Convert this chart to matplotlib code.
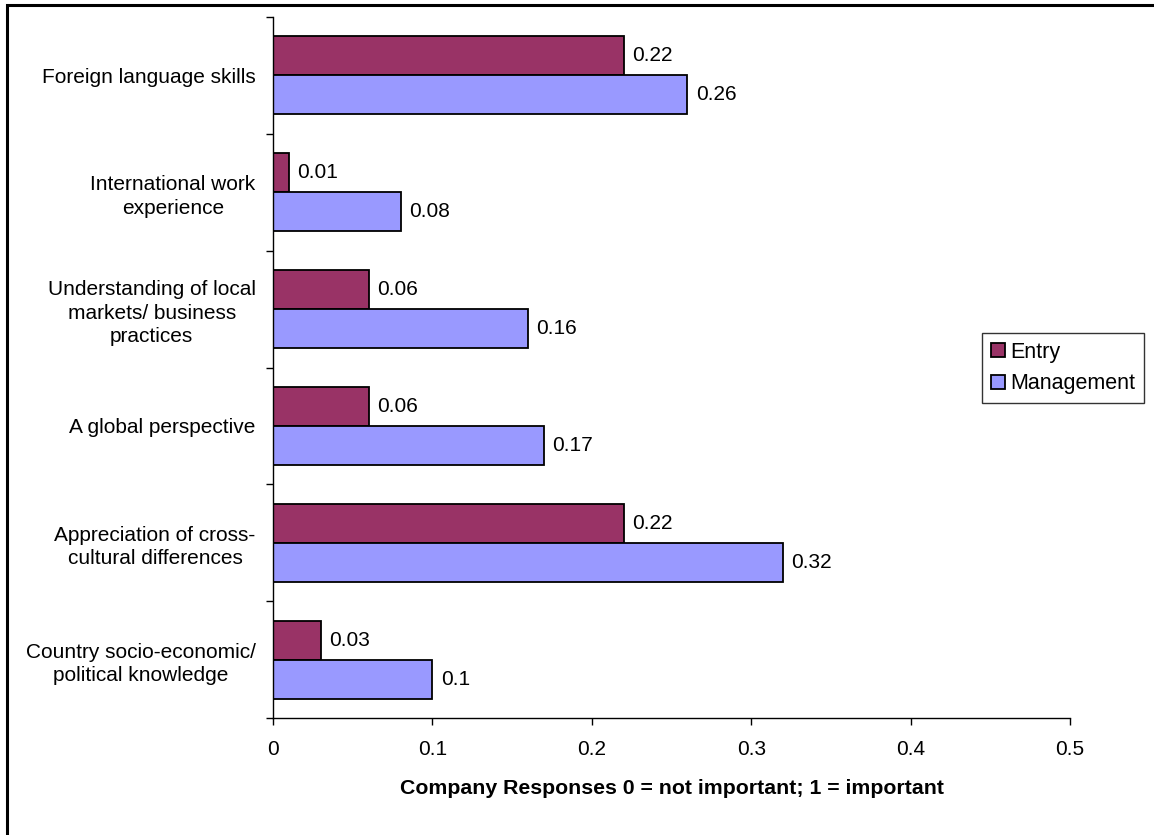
import matplotlib.pyplot as plt
from matplotlib.patches import Rectangle
from matplotlib.ticker import FixedLocator
import numpy as np

plt.rcParams['font.family'] = ['Liberation Sans', 'DejaVu Sans']

# Skills asked about, top to bottom
skills = [
    "Foreign language skills",
    "International work\nexperience",
    "Understanding of local\nmarkets/ business\npractices",
    "A global perspective",
    "Appreciation of cross-\ncultural differences",
    "Country socio-economic/\npolitical knowledge",
]
entry = [0.22, 0.01, 0.06, 0.06, 0.22, 0.03]
management = [0.26, 0.08, 0.16, 0.17, 0.32, 0.10]
x_ticks = [0, 0.1, 0.2, 0.3, 0.4, 0.5]

W, H = 1154, 835
fig = plt.figure(figsize=(W / 100, H / 100), dpi=100)
ax = fig.add_axes([273 / W, 1 - 718 / H, (1070 - 273) / W, (718 - 17) / H])

# outer chart border (right/bottom edges fall off the page)
fig.patches.append(Rectangle((7 / W, -0.1), 1.2, 1 - 5 / H + 0.1,
                             transform=fig.transFigure, fill=False,
                             edgecolor='black', linewidth=2.2))

y = np.arange(len(skills))
h = 1 / 3
bars_e = ax.barh(y - h / 2, entry, height=h, color='#993366',
                 edgecolor='black', linewidth=1.3, label='Entry')
bars_m = ax.barh(y + h / 2, management, height=h, color='#9999FF',
                 edgecolor='black', linewidth=1.3, label='Management')

for bars, vals in ((bars_e, entry), (bars_m, management)):
    for b, v in zip(bars, vals):
        ax.annotate(f"{v:g}", (v, b.get_y() + b.get_height() / 2),
                    xytext=(6, 0), textcoords='offset points',
                    va='center', ha='left', fontsize=15)

ax.set_xlim(0, 0.5)
ax.set_ylim(len(skills) - 0.5, -0.5)

ax.set_xticks(x_ticks)
ax.set_xticklabels([f"{t:g}" for t in x_ticks], fontsize=15)
ax.tick_params(axis='x', length=5, width=1, pad=11)

ax.set_yticks(y)
ax.set_yticklabels(skills, fontsize=15, ha='right', multialignment='center',
                   linespacing=1.3)
ax.tick_params(axis='y', which='major', length=0, pad=12.5)
ax.yaxis.set_minor_locator(FixedLocator(np.arange(-0.5, len(skills), 1)))
ax.tick_params(axis='y', which='minor', length=5, width=1)

for s in ('top', 'right'):
    ax.spines[s].set_visible(False)
for s in ('left', 'bottom'):
    ax.spines[s].set_linewidth(1)

ax.set_xlabel("Company Responses 0 = not important; 1 = important",
              fontsize=15.3, fontweight='bold', labelpad=14)

leg = ax.legend(loc='upper left', bbox_to_anchor=(982 / W, 1 - 333 / H),
                bbox_transform=fig.transFigure, fontsize=15.5, frameon=True,
                fancybox=False, edgecolor='black', handlelength=0.65,
                handleheight=0.65, handletextpad=0.25, borderpad=0.4,
                labelspacing=0.5, borderaxespad=0)
leg.get_frame().set_linewidth(1)

fig.savefig("out.png", dpi=100, facecolor='white')
